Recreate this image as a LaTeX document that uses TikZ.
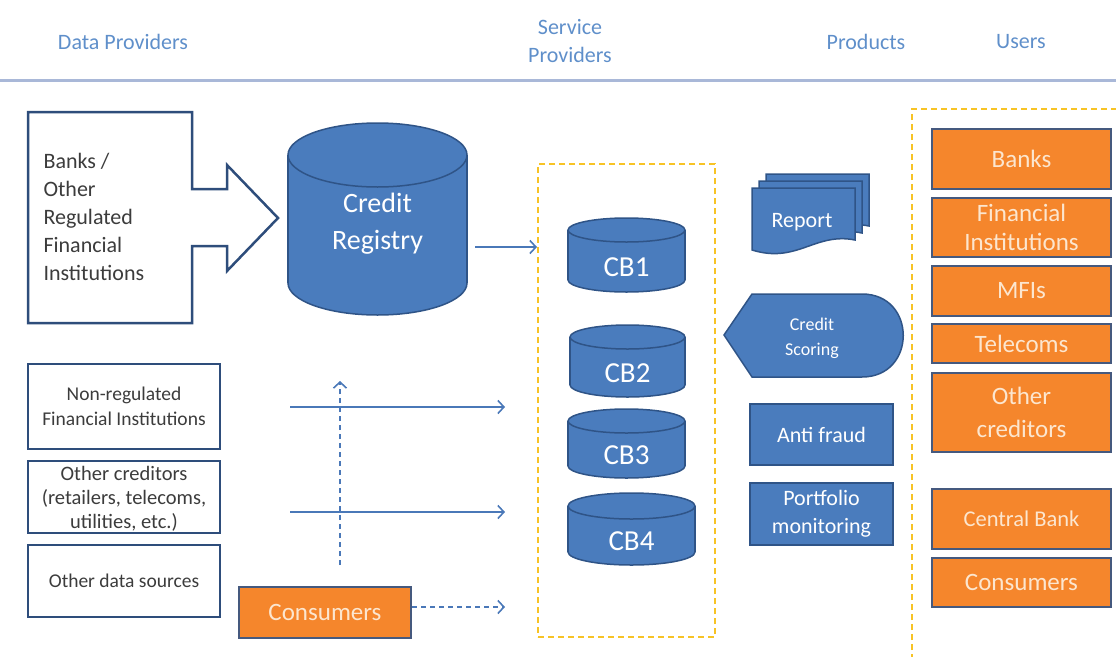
\documentclass[tikz,border=0pt]{standalone}
\usepackage{fontspec}
\setmainfont{Carlito}
\usetikzlibrary{arrows.meta}
\definecolor{hdrblue}{HTML}{5F8FCA}
\definecolor{rulec}{HTML}{A9B8D8}
\definecolor{dkedge}{HTML}{2E4D7B}
\definecolor{txtgray}{HTML}{3C3C3C}
\definecolor{cbblue}{HTML}{4A7CBD}
\definecolor{cbedge}{HTML}{2F5487}
\definecolor{orng}{HTML}{F5862C}
\definecolor{oredge}{HTML}{45597E}
\definecolor{cream}{HTML}{FCE6CF}
\definecolor{gold}{HTML}{F7C325}
\definecolor{arrowblue}{HTML}{4A78B8}
\newcommand\fs[2]{\fontsize{#1}{#2}\selectfont}
\newcommand\dbcyl[9]{%
  \pgfmathsetmacro\cylcx{(#2+#4)/2}%
  \pgfmathsetmacro\cylrx{(#4-#2)/2}%
  \pgfmathsetmacro\cylyt{#3+#6}%
  \pgfmathsetmacro\cylyb{#5-#6}%
  \pgfmathsetmacro\cylw{#4-#2}%
  \pgfmathsetmacro\cylh{#5-#3}%
  \pgfmathsetmacro\cylcy{(#3+#5)/2}%
  \filldraw[cylst] (\cylcx,\cylyb) ellipse[x radius=\cylrx, y radius=#6];
  \fill[cbblue] (#2,\cylyt) rectangle (#4,\cylyb);
  \draw[cbedge,line width=1.5pt] (#2,\cylyt) -- (#2,\cylyb) (#4,\cylyt) -- (#4,\cylyb);
  \filldraw[cylst] (\cylcx,\cylyt) ellipse[x radius=\cylrx, y radius=#6];
  \node[inner sep=0pt,minimum width=\cylw pt,minimum height=\cylh pt] (#1) at (\cylcx,\cylcy) {};
  \node[text=white,align=center,font=#9] (#1-t) at (\cylcx,#7) {#8};}
\newcommand\page[2]{%
  \filldraw[cylst] (#1,#2) -- ++(103,0) -- ++(0,52)
     .. controls ++(-40,-8) and ++(45,14) .. ++(-103,10) -- cycle;}
\begin{document}
\begin{tikzpicture}[x=1pt,y=-1pt,
  hdr/.style={text=hdrblue,font=\fs{22}{28},align=center},
  srcbox/.style={draw=dkedge,line width=2.5pt,fill=white,text=txtgray,align=center,inner sep=0pt},
  cylst/.style={fill=cbblue,draw=cbedge,line width=1.5pt},
  prodbox/.style={fill=cbblue,draw=cbedge,line width=1.5pt,text=white,align=center,inner sep=0pt},
  orbox/.style={fill=orng,draw=oredge,line width=2.5pt,text=cream,align=center,inner sep=0pt,minimum width=179pt},
  goldbox/.style={draw=gold,line width=2pt,dash pattern=on 6pt off 4pt},
  flow/.style={draw=arrowblue,line width=1.4pt,-{Straight Barb[length=6pt,width=13pt,line width=1.6pt]}},
  dflow/.style={flow,dash pattern=on 5pt off 4pt}]
\useasboundingbox (0,0) rectangle (1116,656);
% header
\node[hdr] (hData) at (123,42) {Data Providers};
\node[hdr] (hServ) at (570,41) {Service\\Providers};
\node[hdr] (hProd) at (866,42) {Products};
\node[hdr] (hUser) at (1021,42) {Users};
\draw[rulec,line width=3pt] (0,80) -- (1116,80);
% banks arrow box
\draw[dkedge,line width=2.5pt,fill=white,line join=miter]
  (28,112) -- (192,112) -- (192,189) -- (227,189) -- (227,165) -- (278,218)
  -- (227,271) -- (227,246) -- (192,246) -- (192,323) -- (28,323) -- cycle;
\node[text=txtgray,align=left,anchor=west,font=\fs{22}{28}] (banksP) at (40,217)
  {Banks /\\Other\\Regulated\\Financial\\Institutions};
% credit registry
\dbcyl{cr}{288}{123}{467}{315}{32}{224}{Credit\\Registry}{\fs{28}{37}}
% left boxes
\node[srcbox,minimum width=192pt,minimum height=85pt,font=\fs{19.5}{25}] (nonreg) at (124,406.5)
  {Non-regulated\\Financial Institutions};
\node[srcbox,minimum width=192pt,minimum height=72pt] (othcred) at (124,497) {};
\node[text=txtgray,align=center,font=\fs{20.5}{24}] (othcredT) at (124,499)
  {Other creditors\\(retailers, telecoms,\\utilities, etc.)};
\node[srcbox,minimum width=192pt,minimum height=72pt,font=\fs{19.5}{25}] (othdata) at (124,581)
  {Other data sources};
\node[orbox,minimum width=172pt,minimum height=51pt,font=\fs{25}{30}] (cons) at (325,612.5) {Consumers};
% service providers box
\node[goldbox,minimum width=177pt,minimum height=473pt,inner sep=0pt] (svc) at (626.5,400.5) {};
\dbcyl{cb1}{568}{218}{685}{292}{12}{267}{CB1}{\fs{29}{34}}
\dbcyl{cb2}{570}{325}{685}{397}{12}{373}{CB2}{\fs{29}{34}}
\dbcyl{cb3}{568}{409}{685}{478}{12}{455}{CB3}{\fs{29}{34}}
\dbcyl{cb4}{568}{493}{695}{565}{13}{541}{CB4}{\fs{29}{34}}
% connectors
\coordinate (a1s) at (475,247);
\draw[flow] (a1s) -- (svc.west |- a1s);
\coordinate (a2s) at (290,407);
\coordinate (a2e) at (505,407);
\draw[flow] (a2s) -- (a2e);
\coordinate (a3s) at (290,512);
\coordinate (a3e) at (505,512);
\draw[flow] (a3s) -- (a3e);
\coordinate (v1s) at (340,565);
\coordinate (v1e) at (340,381);
\draw[dflow] (v1s) -- (v1e);
\coordinate (c3) at (505,607);
\draw[dflow] (cons.east |- c3) -- (c3);
% products
\page{766}{174}
\page{759}{181}
\page{752}{188}
\node[text=white,font=\fs{22}{26}] (report) at (802,222) {Report};
\filldraw[cylst] (724,335) -- (752,294) -- (862,294)
  .. controls (917,294) and (917,377) .. (862,377) -- (752,377) -- cycle;
\node[text=white,align=center,font=\fs{18}{25}] (score) at (812,338) {Credit\\Scoring};
\node[prodbox,minimum width=143pt,minimum height=61pt,font=\fs{22}{26}] (fraud) at (821.5,434.5) {Anti fraud};
\node[prodbox,minimum width=143pt,minimum height=62pt,font=\fs{22}{28}] (portf) at (821.5,514) {Portfolio\\monitoring};
% users
\draw[goldbox] (912,660) -- (912,109) -- (1120,109);
\node[orbox,minimum height=60pt,font=\fs{25}{30}] (uBanks) at (1021.5,159) {Banks};
\node[orbox,minimum height=59pt,font=\fs{25}{29}] (uFin) at (1021.5,227.5) {Financial\\Institutions};
\node[orbox,minimum height=50pt,font=\fs{25}{30}] (uMfi) at (1021.5,291) {MFIs};
\node[orbox,minimum height=39pt,font=\fs{25}{30}] (uTel) at (1021.5,343.5) {Telecoms};
\node[orbox,minimum height=79pt,font=\fs{25}{33}] (uOth) at (1021.5,412.5) {Other\\creditors};
\node[orbox,minimum height=60pt,font=\fs{22.5}{28}] (uCb) at (1021.5,519) {Central Bank};
\node[orbox,minimum height=49pt,font=\fs{25}{30}] (uCons) at (1021.5,582.5) {Consumers};
\end{tikzpicture}
\end{document}
